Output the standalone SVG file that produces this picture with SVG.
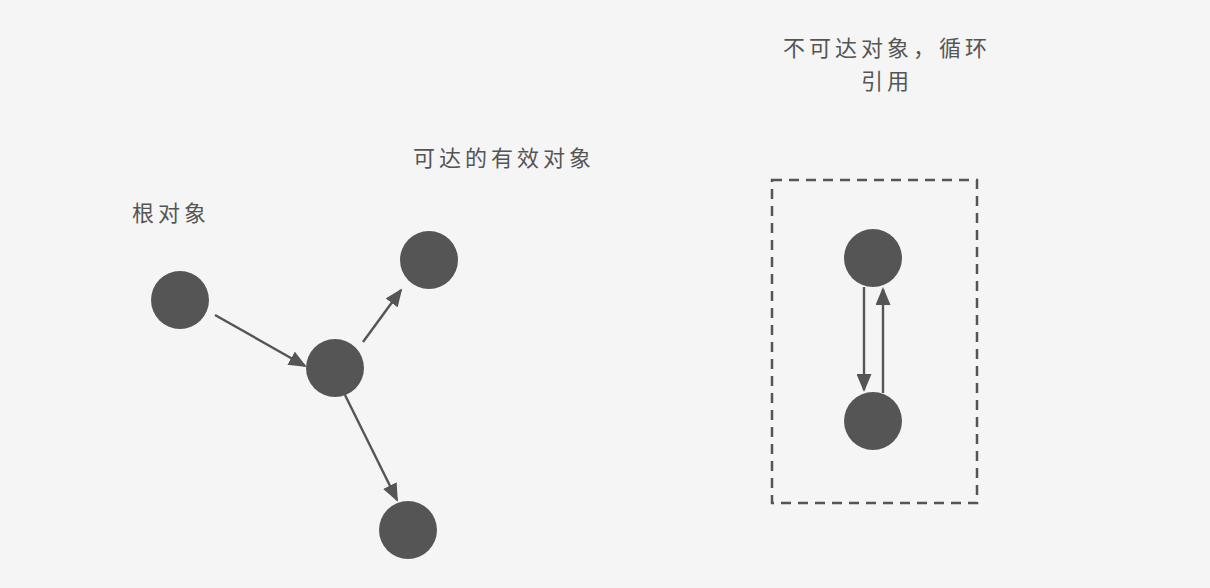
<svg xmlns="http://www.w3.org/2000/svg" width="1210" height="588" viewBox="0 0 1210 588">
  <defs>
    <marker id="arrow" viewBox="0 0 18 15" markerUnits="userSpaceOnUse" markerWidth="18" markerHeight="15" refX="16" refY="7.5" orient="auto">
      <path d="M0,0 L18,7.5 L0,15 z" fill="#555555"/>
    </marker>
    <style>
      .node { fill: #555555; }
      .edge { stroke: #555555; stroke-width: 2.4; fill: none; marker-end: url(#arrow); }
      .label { font-family: "Liberation Sans", "Noto Sans CJK SC", sans-serif; font-size: 22px; letter-spacing: 4px; fill: #555555; }
      .group { fill: none; stroke: #555555; stroke-width: 2.5; stroke-dasharray: 10 7; }
    </style>
  </defs>

  <rect x="0" y="0" width="1210" height="588" fill="#f5f5f5"/>

  <!-- labels -->
  <text class="label" x="132" y="221">根对象</text>
  <text class="label" x="413" y="166">可达的有效对象</text>
  <text class="label" x="887" y="56" text-anchor="middle">不可达对象，循环</text>
  <text class="label" x="887" y="89" text-anchor="middle">引用</text>

  <!-- dashed boundary around the unreachable cycle -->
  <rect id="unreachable-group" class="group" x="772" y="180" width="205" height="323"/>

  <!-- connectors -->
  <g id="connectors">
    <line class="edge" x1="215" y1="315" x2="305" y2="366"/>
    <line class="edge" x1="363" y1="342" x2="401" y2="290"/>
    <line class="edge" x1="345" y1="395" x2="397" y2="500"/>
    <line class="edge" x1="864" y1="287" x2="864" y2="390"/>
    <line class="edge" x1="883" y1="393" x2="883" y2="289"/>
  </g>

  <!-- objects -->
  <g id="root"><circle class="node" cx="180" cy="300" r="29"/></g>
  <g id="reachable-mid"><circle class="node" cx="335" cy="368" r="29"/></g>
  <g id="reachable-top"><circle class="node" cx="429" cy="260" r="29"/></g>
  <g id="reachable-bottom"><circle class="node" cx="408" cy="530" r="29"/></g>
  <g id="cycle-top"><circle class="node" cx="873" cy="258" r="29"/></g>
  <g id="cycle-bottom"><circle class="node" cx="873" cy="421" r="29"/></g>
</svg>
